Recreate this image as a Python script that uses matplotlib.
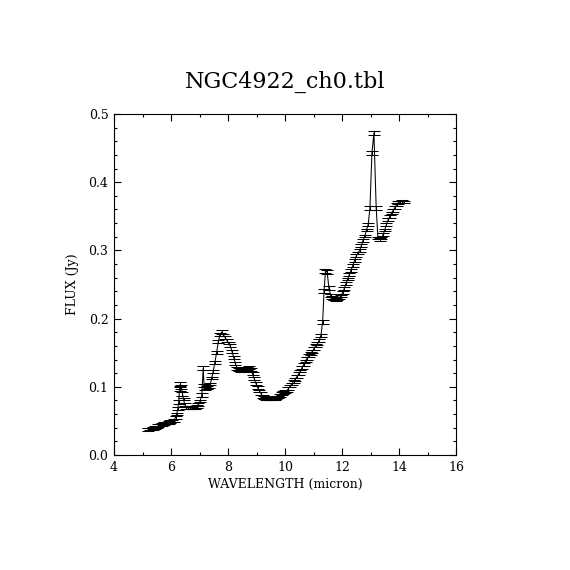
import numpy as np
import matplotlib
matplotlib.use("Agg")
import matplotlib.pyplot as plt
from matplotlib.ticker import MultipleLocator, FormatStrFormatter

# spectrum (wavelength in micron, flux in Jy)
wavelength = [
    5.20, 5.26, 5.32, 5.38, 5.44, 5.50, 5.56, 5.62, 5.68, 5.74,
    5.80, 5.86, 5.92, 5.98, 6.04, 6.10, 6.16, 6.20, 6.24, 6.27,
    6.30, 6.33, 6.36, 6.40, 6.44, 6.48, 6.54, 6.60, 6.66, 6.72,
    6.78, 6.84, 6.90, 6.96, 7.02, 7.08, 7.13, 7.16, 7.20, 7.26,
    7.32, 7.38, 7.43, 7.48, 7.54, 7.60, 7.66, 7.72, 7.78, 7.84,
    7.90, 7.96, 8.02, 8.08, 8.14, 8.20, 8.26, 8.32, 8.38, 8.44,
    8.50, 8.56, 8.62, 8.68, 8.74, 8.80, 8.86, 8.92, 8.98, 9.04,
    9.10, 9.16, 9.22, 9.28, 9.34, 9.40, 9.46, 9.52, 9.58, 9.64,
    9.70, 9.76, 9.82, 9.88, 9.94, 10.00, 10.06, 10.12, 10.18, 10.24,
    10.30, 10.36, 10.42, 10.48, 10.54, 10.60, 10.66, 10.72, 10.78, 10.84,
    10.90, 10.96, 11.02, 11.08, 11.14, 11.20, 11.26, 11.32, 11.37, 11.42,
    11.48, 11.54, 11.60, 11.66, 11.72, 11.78, 11.84, 11.90, 11.96, 12.02,
    12.08, 12.14, 12.20, 12.26, 12.32, 12.38, 12.44, 12.50, 12.56, 12.62,
    12.68, 12.74, 12.80, 12.86, 12.92, 12.98, 13.05, 13.12, 13.20, 13.26,
    13.32, 13.38, 13.44, 13.50, 13.56, 13.62, 13.68, 13.74, 13.80, 13.86,
    13.92, 13.98, 14.04, 14.10, 14.16,
]
flux = [
    0.037, 0.038, 0.038, 0.039, 0.040, 0.041, 0.043, 0.044, 0.045, 0.046,
    0.047, 0.047, 0.048, 0.049, 0.050, 0.051, 0.055, 0.060, 0.068, 0.078,
    0.097, 0.104, 0.100, 0.090, 0.082, 0.074, 0.070, 0.069, 0.069, 0.069,
    0.070, 0.070, 0.071, 0.074, 0.079, 0.088, 0.127, 0.102, 0.097, 0.099,
    0.100, 0.104, 0.113, 0.122, 0.136, 0.150, 0.166, 0.177, 0.180, 0.176,
    0.172, 0.168, 0.164, 0.160, 0.152, 0.143, 0.134, 0.127, 0.125, 0.124,
    0.124, 0.125, 0.126, 0.127, 0.128, 0.125, 0.119, 0.112, 0.105, 0.099,
    0.094, 0.090, 0.086, 0.084, 0.083, 0.083, 0.083, 0.083, 0.083, 0.083,
    0.084, 0.085, 0.087, 0.090, 0.092, 0.093, 0.094, 0.097, 0.101, 0.104,
    0.108, 0.111, 0.115, 0.119, 0.123, 0.128, 0.133, 0.138, 0.142, 0.146,
    0.149, 0.152, 0.156, 0.160, 0.163, 0.168, 0.175, 0.195, 0.240, 0.270,
    0.268, 0.245, 0.234, 0.231, 0.229, 0.228, 0.229, 0.230, 0.233, 0.238,
    0.244, 0.251, 0.258, 0.265, 0.271, 0.278, 0.285, 0.292, 0.296, 0.300,
    0.307, 0.315, 0.321, 0.330, 0.338, 0.362, 0.443, 0.472, 0.362, 0.318,
    0.316, 0.318, 0.323, 0.330, 0.338, 0.345, 0.350, 0.355, 0.359, 0.363,
    0.367, 0.370, 0.371, 0.372, 0.371,
]
flux_err = [
    0.002, 0.002, 0.002, 0.002, 0.002, 0.002, 0.002, 0.002, 0.002, 0.002,
    0.002, 0.002, 0.002, 0.002, 0.002, 0.002, 0.002, 0.002, 0.002, 0.003,
    0.003, 0.003, 0.003, 0.003, 0.002, 0.002, 0.002, 0.002, 0.002, 0.002,
    0.002, 0.002, 0.002, 0.002, 0.002, 0.003, 0.003, 0.002, 0.002, 0.002,
    0.002, 0.002, 0.002, 0.002, 0.002, 0.002, 0.002, 0.002, 0.003, 0.002,
    0.002, 0.002, 0.002, 0.002, 0.002, 0.002, 0.002, 0.002, 0.002, 0.002,
    0.002, 0.002, 0.002, 0.002, 0.002, 0.002, 0.002, 0.002, 0.002, 0.002,
    0.002, 0.002, 0.002, 0.002, 0.002, 0.002, 0.002, 0.002, 0.002, 0.002,
    0.002, 0.002, 0.002, 0.002, 0.002, 0.002, 0.002, 0.002, 0.002, 0.002,
    0.002, 0.002, 0.002, 0.002, 0.002, 0.002, 0.002, 0.002, 0.002, 0.002,
    0.002, 0.002, 0.002, 0.002, 0.002, 0.002, 0.002, 0.003, 0.003, 0.003,
    0.003, 0.003, 0.002, 0.002, 0.002, 0.002, 0.002, 0.002, 0.002, 0.002,
    0.002, 0.002, 0.002, 0.002, 0.002, 0.002, 0.002, 0.002, 0.002, 0.002,
    0.002, 0.002, 0.002, 0.002, 0.002, 0.003, 0.003, 0.003, 0.003, 0.002,
    0.002, 0.002, 0.002, 0.002, 0.002, 0.002, 0.002, 0.002, 0.002, 0.002,
    0.002, 0.002, 0.002, 0.002, 0.002,
]

plt.rcParams["font.family"] = ["DejaVu Serif"]

fig = plt.figure(figsize=(5.7, 5.7), dpi=100)
ax = fig.add_axes([0.2, 0.2018, 0.6, 0.5982])

ax.errorbar(wavelength, flux, yerr=flux_err, fmt="-", color="black",
            lw=0.75, elinewidth=0.75, capsize=4.3, capthick=0.75)

ax.set_xlim(4, 16)
ax.set_ylim(0.0, 0.5)
ax.xaxis.set_major_locator(MultipleLocator(2))
ax.xaxis.set_minor_locator(MultipleLocator(1))
ax.yaxis.set_major_locator(MultipleLocator(0.1))
ax.yaxis.set_minor_locator(MultipleLocator(0.02))
ax.xaxis.set_major_formatter(FormatStrFormatter("%d"))
ax.yaxis.set_major_formatter(FormatStrFormatter("%.1f"))
ax.tick_params(which="both", direction="in", top=True, right=True,
               width=0.8, labelsize=9, pad=4)
ax.tick_params(which="major", length=5)
ax.tick_params(which="minor", length=2.5)
for sp in ax.spines.values():
    sp.set_linewidth(0.8)

ax.set_xlabel("WAVELENGTH (micron)", fontsize=9, labelpad=3)
ax.set_ylabel("FLUX (Jy)", fontsize=9, labelpad=7)
fig.text(0.5, 0.856, "NGC4922_ch0.tbl", ha="center", va="center", fontsize=16)

fig.savefig("out.png", dpi=100)
